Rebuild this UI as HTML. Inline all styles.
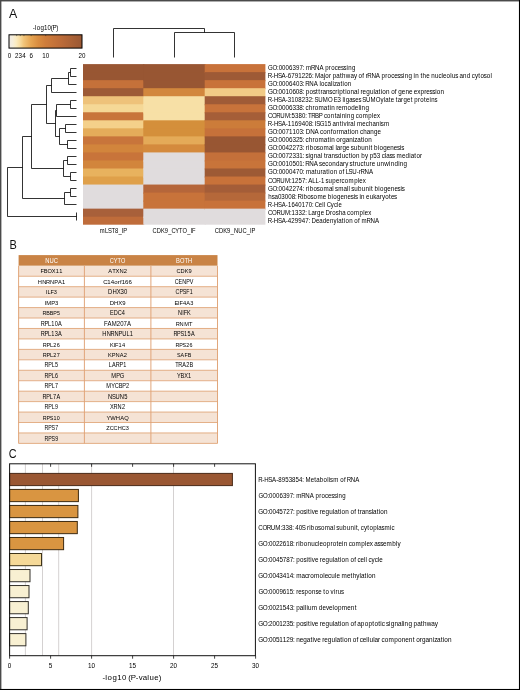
<!DOCTYPE html>
<html><head><meta charset="utf-8"><title>Figure</title>
<style>
html,body{margin:0;padding:0;background:#fff;}
body{width:520px;height:690px;position:relative;overflow:hidden;font-family:"Liberation Sans",sans-serif;}
</style></head><body>
<svg width="520" height="690" viewBox="0 0 520 690" style="position:absolute;left:0;top:0;will-change:transform" font-family="Liberation Sans, sans-serif">
<rect x="0" y="0" width="520" height="690" fill="#ffffff"/>
<text transform="scale(0.9658 1)" x="9.32" y="17.7" font-size="12.825" fill="#111" >A</text>
<text transform="scale(0.8553 1)" x="10.99" y="248.6" font-size="12.825" fill="#111" >B</text>
<text transform="scale(0.8454 1)" x="10.29" y="457.7" font-size="12.825" fill="#111" >C</text>
<defs><linearGradient id="cb" x1="0" y1="0" x2="1" y2="0">
<stop offset="0" stop-color="#efebe6"/>
<stop offset="0.05" stop-color="#f6eedb"/>
<stop offset="0.10" stop-color="#fbebc0"/>
<stop offset="0.15" stop-color="#f8dca0"/>
<stop offset="0.20" stop-color="#f2c57a"/>
<stop offset="0.30" stop-color="#e6a552"/>
<stop offset="0.40" stop-color="#d98d40"/>
<stop offset="0.50" stop-color="#cf7d3b"/>
<stop offset="0.70" stop-color="#bd6c39"/>
<stop offset="1" stop-color="#9a5834"/>
</linearGradient></defs>
<rect x="9.0" y="34.8" width="73.0" height="13.300000000000004" fill="url(#cb)" stroke="#000" stroke-width="1.0"/>
<line x1="16.66" y1="34.8" x2="16.66" y2="36.099999999999994" stroke="#222" stroke-width="0.5"/>
<line x1="20.29" y1="34.8" x2="20.29" y2="36.099999999999994" stroke="#222" stroke-width="0.5"/>
<line x1="23.92" y1="34.8" x2="23.92" y2="36.099999999999994" stroke="#222" stroke-width="0.5"/>
<line x1="31.18" y1="34.8" x2="31.18" y2="36.099999999999994" stroke="#222" stroke-width="0.5"/>
<line x1="45.70" y1="34.8" x2="45.70" y2="36.099999999999994" stroke="#222" stroke-width="0.5"/>
<text transform="scale(0.9668 1)" x="33.99 36.24 37.91 41.78 45.52 49.10 52.60 54.37 58.29" y="29.65" font-size="6.412" fill="#000" >-log10(P)</text>
<text transform="scale(0.9711 1)" x="7.90" y="57.9" font-size="6.412" fill="#000" >0</text>
<text transform="scale(0.9711 1)" x="15.37" y="57.9" font-size="6.412" fill="#000" >2</text>
<text transform="scale(0.9711 1)" x="19.11" y="57.9" font-size="6.412" fill="#000" >3</text>
<text transform="scale(0.9711 1)" x="22.85" y="57.9" font-size="6.412" fill="#000" >4</text>
<text transform="scale(0.9711 1)" x="30.33" y="57.9" font-size="6.412" fill="#000" >6</text>
<text transform="scale(0.9711 1)" x="43.50 47.06" y="57.9" font-size="6.412" fill="#000" >10</text>
<text transform="scale(0.9711 1)" x="80.88 84.44" y="57.9" font-size="6.412" fill="#000" >20</text>
<rect x="83.00" y="64.10" width="61.30" height="9.03" fill="#985633"/>
<rect x="83.00" y="72.13" width="61.30" height="9.03" fill="#985633"/>
<rect x="83.00" y="80.16" width="61.30" height="9.03" fill="#c5713a"/>
<rect x="83.00" y="88.19" width="61.30" height="9.03" fill="#9d5a36"/>
<rect x="83.00" y="96.22" width="61.30" height="9.03" fill="#eec27a"/>
<rect x="83.00" y="104.25" width="61.30" height="9.03" fill="#f5d896"/>
<rect x="83.00" y="112.28" width="61.30" height="9.03" fill="#c8753b"/>
<rect x="83.00" y="120.31" width="61.30" height="9.03" fill="#f4d08a"/>
<rect x="83.00" y="128.34" width="61.30" height="9.03" fill="#e4ac5a"/>
<rect x="83.00" y="136.37" width="61.30" height="9.03" fill="#c8753b"/>
<rect x="83.00" y="144.40" width="61.30" height="9.03" fill="#d2853c"/>
<rect x="83.00" y="152.43" width="61.30" height="9.03" fill="#c8743a"/>
<rect x="83.00" y="160.46" width="61.30" height="9.03" fill="#d2853c"/>
<rect x="83.00" y="168.49" width="61.30" height="9.03" fill="#e8b25e"/>
<rect x="83.00" y="176.52" width="61.30" height="9.03" fill="#dfa04a"/>
<rect x="83.00" y="184.55" width="61.30" height="9.03" fill="#e0dcdd"/>
<rect x="83.00" y="192.58" width="61.30" height="9.03" fill="#e0dcdd"/>
<rect x="83.00" y="200.61" width="61.30" height="9.03" fill="#e0dcdd"/>
<rect x="83.00" y="208.64" width="61.30" height="9.03" fill="#a8603a"/>
<rect x="83.00" y="216.67" width="61.30" height="8.03" fill="#bf6c3a"/>
<rect x="143.30" y="64.10" width="62.40" height="9.03" fill="#985633"/>
<rect x="143.30" y="72.13" width="62.40" height="9.03" fill="#985633"/>
<rect x="143.30" y="80.16" width="62.40" height="9.03" fill="#985633"/>
<rect x="143.30" y="88.19" width="62.40" height="9.03" fill="#d2873d"/>
<rect x="143.30" y="96.22" width="62.40" height="9.03" fill="#f7e0a6"/>
<rect x="143.30" y="104.25" width="62.40" height="9.03" fill="#f7e0a6"/>
<rect x="143.30" y="112.28" width="62.40" height="9.03" fill="#f7e0a6"/>
<rect x="143.30" y="120.31" width="62.40" height="9.03" fill="#d48f3b"/>
<rect x="143.30" y="128.34" width="62.40" height="9.03" fill="#d48f3b"/>
<rect x="143.30" y="136.37" width="62.40" height="9.03" fill="#e4aa58"/>
<rect x="143.30" y="144.40" width="62.40" height="9.03" fill="#d48a3d"/>
<rect x="143.30" y="152.43" width="62.40" height="9.03" fill="#e0dcdd"/>
<rect x="143.30" y="160.46" width="62.40" height="9.03" fill="#e0dcdd"/>
<rect x="143.30" y="168.49" width="62.40" height="9.03" fill="#e0dcdd"/>
<rect x="143.30" y="176.52" width="62.40" height="9.03" fill="#e0dcdd"/>
<rect x="143.30" y="184.55" width="62.40" height="9.03" fill="#b5663a"/>
<rect x="143.30" y="192.58" width="62.40" height="9.03" fill="#c8733a"/>
<rect x="143.30" y="200.61" width="62.40" height="9.03" fill="#c8733a"/>
<rect x="143.30" y="208.64" width="62.40" height="9.03" fill="#e0dcdd"/>
<rect x="143.30" y="216.67" width="62.40" height="8.03" fill="#e0dcdd"/>
<rect x="204.70" y="64.10" width="60.70" height="9.03" fill="#c8723a"/>
<rect x="204.70" y="72.13" width="60.70" height="9.03" fill="#9e5a36"/>
<rect x="204.70" y="80.16" width="60.70" height="9.03" fill="#c8723a"/>
<rect x="204.70" y="88.19" width="60.70" height="9.03" fill="#f2cb86"/>
<rect x="204.70" y="96.22" width="60.70" height="9.03" fill="#9f5b37"/>
<rect x="204.70" y="104.25" width="60.70" height="9.03" fill="#c8733b"/>
<rect x="204.70" y="112.28" width="60.70" height="9.03" fill="#a55e38"/>
<rect x="204.70" y="120.31" width="60.70" height="9.03" fill="#cc7c3a"/>
<rect x="204.70" y="128.34" width="60.70" height="9.03" fill="#c6713a"/>
<rect x="204.70" y="136.37" width="60.70" height="9.03" fill="#985633"/>
<rect x="204.70" y="144.40" width="60.70" height="9.03" fill="#985633"/>
<rect x="204.70" y="152.43" width="60.70" height="9.03" fill="#c4703a"/>
<rect x="204.70" y="160.46" width="60.70" height="9.03" fill="#c8743a"/>
<rect x="204.70" y="168.49" width="60.70" height="9.03" fill="#9d5a35"/>
<rect x="204.70" y="176.52" width="60.70" height="9.03" fill="#c8723a"/>
<rect x="204.70" y="184.55" width="60.70" height="9.03" fill="#a45d38"/>
<rect x="204.70" y="192.58" width="60.70" height="9.03" fill="#b5683a"/>
<rect x="204.70" y="200.61" width="60.70" height="9.03" fill="#c8723a"/>
<rect x="204.70" y="208.64" width="60.70" height="9.03" fill="#e0dcdd"/>
<rect x="204.70" y="216.67" width="60.70" height="8.03" fill="#e0dcdd"/>
<text transform="scale(0.9091 1)" x="109.74 115.47 118.70 122.55 126.48 130.24 133.88 135.49" y="233.4" font-size="6.412" fill="#000" >mLST8_IP</text>
<text transform="scale(0.8954 1)" x="170.32 175.02 179.75 184.08 187.90 191.43 195.84 199.93 203.86 209.06 212.73 214.40" y="233.4" font-size="6.412" fill="#000" >CDK9_CYTO_IF</text>
<text transform="scale(0.9099 1)" x="236.05 240.67 245.33 249.60 253.36 257.12 261.96 266.51 271.05 274.68 276.29" y="233.4" font-size="6.412" fill="#000" >CDK9_NUC_IP</text>
<text transform="scale(0.9499 1)" x="282.15 286.89 291.68 293.34 296.99 300.63 304.28 307.93 311.57 315.22 318.67 320.16 322.09 327.32 331.57 336.26 340.44 342.32 346.22 348.62 352.34 355.53 358.90 361.71 364.84 366.57 370.53" y="70.11" font-size="6.412" fill="#000" >GO:0006397: mRNA processing</text>
<text transform="scale(0.9718 1)" x="275.54 279.72 281.80 285.95 289.79 294.05 296.19 299.75 303.31 306.88 310.44 314.00 317.57 320.96 322.41 324.16 329.52 333.11 334.79 338.54 340.59 342.41 346.06 349.78 351.96 355.91 360.68 364.17 367.25 369.00 372.81 374.56 376.26 378.02 382.17 386.76 390.87 392.69 396.51 398.84 402.48 405.60 408.89 411.64 414.72 416.39 420.26 423.83 425.56 427.23 430.78 432.67 434.85 438.52 441.89 443.66 447.50 451.15 454.42 455.91 459.55 463.35 465.01 468.48 471.31 472.82 476.43 480.31 483.90 485.48 488.67 492.17 494.33 497.79 500.90 504.69" y="78.14" font-size="6.412" fill="#000" >R-HSA-6791226: Major pathway of rRNA processing in the nucleolus and cytosol</text>
<text transform="scale(0.9535 1)" x="281.06 285.79 290.56 292.22 295.85 299.48 303.11 306.74 310.37 314.01 317.45 318.93 320.16 324.39 329.06 333.23 334.99 336.70 340.41 343.52 347.13 348.80 350.25 353.29 357.06 359.24 360.94 364.85" y="86.17" font-size="6.412" fill="#000" >GO:0006403: RNA localization</text>
<text transform="scale(0.9875 1)" x="271.30 275.87 280.53 282.10 285.61 289.11 292.62 296.13 299.63 303.14 306.49 307.92 309.70 313.52 316.93 320.13 322.39 324.46 326.51 330.06 333.49 336.37 339.56 341.83 343.50 347.47 349.58 351.19 354.96 358.50 362.03 363.38 365.05 367.16 370.78 374.58 378.34 379.72 383.39 385.50 387.11 390.88 394.39 396.10 399.87 401.59 403.33 406.95 410.56 414.17 417.50 419.05 422.52 425.87 429.65 431.76 435.01 437.71 440.76 442.36 446.14" y="94.2" font-size="6.412" fill="#000" >GO:0010608: posttranscriptional regulation of gene expression</text>
<text transform="scale(0.9477 1)" x="282.60 286.86 289.03 293.28 297.22 301.56 303.77 307.42 311.08 314.73 318.38 322.04 325.69 329.15 330.64 331.90 335.79 340.60 346.09 350.90 352.16 356.10 359.57 361.35 363.02 364.77 368.48 371.79 374.80 378.18 381.05 382.32 386.20 391.01 396.51 401.53 404.94 406.42 410.21 412.28 415.71 417.65 419.65 423.25 425.69 429.46 433.32 435.25 437.14 441.04 443.45 447.48 449.55 453.23 454.97 458.54" y="102.23" font-size="6.412" fill="#000" >R-HSA-3108232: SUMO E3 ligases SUMOylate target proteins</text>
<text transform="scale(0.9892 1)" x="270.83 275.39 280.05 281.61 285.11 288.61 292.12 295.62 299.12 302.62 305.97 307.39 308.93 312.18 315.90 318.17 322.01 327.38 331.05 333.15 334.78 338.29 339.95 342.06 345.72 351.33 355.13 358.76 362.35 363.95 365.57 369.37" y="110.26" font-size="6.412" fill="#000" >GO:0006338: chromatin remodeling</text>
<text transform="scale(0.9511 1)" x="281.73 286.06 290.59 294.79 299.59 304.96 306.62 310.26 313.90 317.54 320.99 322.47 323.92 327.24 331.25 335.06 338.95 340.58 343.93 347.85 351.89 353.88 357.49 359.22 363.09 364.82 368.77 372.40 374.03 377.39 381.41 387.28 391.20 392.75 396.35" y="118.29" font-size="6.412" fill="#000" >CORUM:5380: TRBP containing complex</text>
<text transform="scale(0.9522 1)" x="281.26 285.50 287.65 291.89 295.80 300.13 302.32 305.96 309.60 313.23 316.87 320.51 324.14 327.59 329.07 330.67 332.02 335.70 340.52 344.16 347.62 349.18 352.86 356.89 359.07 360.72 364.14 365.78 367.93 371.54 372.95 374.88 380.50 384.04 387.42 391.09 394.77 398.64 399.98 403.27" y="126.32" font-size="6.412" fill="#000" >R-HSA-1169408: ISG15 antiviral mechanism</text>
<text transform="scale(0.9771 1)" x="274.23 278.84 283.54 285.13 288.68 292.22 295.76 299.31 302.85 306.40 309.77 311.22 312.83 317.40 321.97 326.06 327.63 330.89 334.71 338.52 340.54 344.28 346.68 352.12 355.82 357.95 359.58 363.40 366.94 368.50 371.79 375.37 378.95 382.80 386.46" y="134.35" font-size="6.412" fill="#000" >GO:0071103: DNA conformation change</text>
<text transform="scale(0.9863 1)" x="271.65 276.22 280.89 282.46 285.97 289.48 292.99 296.50 300.01 303.52 306.88 308.31 309.86 313.11 316.85 319.13 322.97 328.36 332.04 334.15 335.78 339.30 341.01 344.72 347.04 350.60 354.15 357.92 359.29 362.23 365.90 368.01 369.62 373.40" y="142.38" font-size="6.412" fill="#000" >GO:0006325: chromatin organization</text>
<text transform="scale(0.9784 1)" x="273.85 278.46 283.15 284.74 288.28 291.82 295.36 298.90 302.44 305.98 309.35 310.80 312.48 314.77 316.47 320.33 323.77 326.85 330.73 336.16 339.71 341.07 342.80 344.20 347.71 350.05 353.71 357.06 358.44 361.53 365.39 369.26 373.07 376.86 378.63 380.51 382.31 386.15 387.78 391.60 395.26 398.90 402.54 405.82 408.88 410.16" y="150.41" font-size="6.412" fill="#000" >GO:0042273: ribosomal large subunit biogenesis</text>
<text transform="scale(0.9752 1)" x="274.77 279.39 284.09 285.69 289.24 292.79 296.34 299.90 303.45 307.00 310.38 311.83 313.22 316.29 317.97 321.82 325.41 328.97 330.34 332.22 334.32 336.40 339.99 343.46 346.61 350.47 354.10 357.51 359.65 361.28 365.11 368.65 370.46 374.24 377.32 379.13 382.87 386.42 389.83 391.40 394.66 396.07 399.29 402.03 404.85 406.69 412.19 415.88 419.71 421.12 424.83 426.98 430.73" y="158.44" font-size="6.412" fill="#000" >GO:0072331: signal transduction by p53 class mediator</text>
<text transform="scale(0.9751 1)" x="274.80 279.42 284.12 285.72 289.27 292.82 296.37 299.93 303.48 307.03 310.41 311.86 313.03 317.17 321.75 325.85 327.24 330.16 333.63 336.90 340.72 344.59 348.21 351.73 353.96 357.03 358.42 361.65 363.75 366.08 369.72 373.12 375.28 379.04 381.19 384.55 386.30 390.13 394.06 399.02 400.68 404.56 408.39 410.05 413.91" y="166.47" font-size="6.412" fill="#000" >GO:0010501: RNA secondary structure unwinding</text>
<text transform="scale(0.9560 1)" x="280.32 285.04 289.80 291.45 295.08 298.70 302.32 305.94 309.56 313.19 316.62 318.10 320.01 325.55 329.31 331.53 335.34 337.48 341.25 343.42 345.11 349.01 352.61 354.41 358.27 360.05 361.57 364.62 368.47 373.08 375.32 377.13 381.35 386.01" y="174.5" font-size="6.412" fill="#000" >GO:0000470: maturation of LSU-rRNA</text>
<text transform="scale(0.9515 1)" x="281.62 285.94 290.47 294.67 299.46 304.83 306.49 310.13 313.77 317.41 320.86 322.34 324.02 328.22 331.57 335.04 337.24 340.70 342.15 345.33 349.30 353.09 356.75 358.96 362.32 366.33 372.20 376.12 377.67 381.27" y="182.53" font-size="6.412" fill="#000" >CORUM:1257: ALL-1 supercomplex</text>
<text transform="scale(0.9773 1)" x="274.17 278.78 283.48 285.07 288.62 292.16 295.70 299.25 302.79 306.33 309.71 311.16 312.84 315.13 316.84 320.70 324.14 327.23 331.11 336.55 340.10 341.47 342.85 346.03 351.47 355.02 356.65 358.01 359.40 362.49 366.36 370.23 374.05 377.84 379.62 381.49 383.30 387.14 388.77 392.60 396.26 399.91 403.55 406.83 409.90 411.18" y="190.56" font-size="6.412" fill="#000" >GO:0042274: ribosomal small subunit biogenesis</text>
<text transform="scale(0.9689 1)" x="276.97 280.46 283.34 286.81 290.38 293.95 297.53 301.10 304.50 305.96 307.15 311.44 313.17 317.06 320.53 323.65 327.58 333.11 336.49 338.32 342.19 343.84 347.70 351.40 355.07 358.75 362.06 365.14 366.45 369.28 371.01 372.69 376.25 377.84 381.51 385.24 388.37 391.91 394.15 397.52 401.48 403.49 406.79" y="198.59" font-size="6.412" fill="#000" >hsa03008: Ribosome biogenesis in eukaryotes</text>
<text transform="scale(0.9275 1)" x="288.81 293.14 295.38 299.72 303.74 308.16 310.43 314.16 317.89 321.63 325.36 329.10 332.83 336.34 337.87 339.32 343.79 347.54 349.26 350.71 352.17 356.71 360.05 363.43 365.04" y="206.62" font-size="6.412" fill="#000" >R-HSA-1640170: Cell Cycle</text>
<text transform="scale(0.9518 1)" x="281.53 285.86 290.39 294.59 299.38 304.74 306.40 310.04 313.68 317.32 320.76 322.25 323.78 327.17 330.75 333.18 336.94 340.36 342.04 346.81 349.20 352.74 355.93 359.61 362.96 364.59 367.94 371.96 377.82 381.75 383.29 386.89" y="214.65" font-size="6.412" fill="#000" >CORUM:1332: Large Drosha complex</text>
<text transform="scale(0.9580 1)" x="279.53 283.76 285.89 290.10 293.99 298.30 300.47 304.09 307.70 311.32 314.93 318.55 321.97 323.45 325.12 329.76 333.23 336.91 340.66 344.38 348.18 351.56 353.02 356.77 358.94 360.63 364.52 368.11 369.90 373.76 375.53 377.44 382.63 386.84 391.49" y="222.68" font-size="6.412" fill="#000" >R-HSA-429947: Deadenylation of mRNA</text>
<path d="M76.5 68.5 L70.5 68.5 L70.5 76.5 L76.5 76.5" fill="none" stroke="#000" stroke-width="0.8"/>
<path d="M70.5 72.5 L68.5 72.5 L68.5 84.5 L76.5 84.5" fill="none" stroke="#000" stroke-width="0.8"/>
<path d="M68.5 78.5 L51.5 78.5 L51.5 92.5 L76.5 92.5" fill="none" stroke="#000" stroke-width="0.8"/>
<path d="M76.5 100.5 L70.5 100.5 L70.5 108.5 L76.5 108.5" fill="none" stroke="#000" stroke-width="0.8"/>
<path d="M70.5 104.5 L56.5 104.5 L56.5 116.5 L76.5 116.5" fill="none" stroke="#000" stroke-width="0.8"/>
<path d="M76.5 124.5 L65.5 124.5 L65.5 132.5 L76.5 132.5" fill="none" stroke="#000" stroke-width="0.8"/>
<path d="M76.5 140.5 L67.5 140.5 L67.5 148.5 L76.5 148.5" fill="none" stroke="#000" stroke-width="0.8"/>
<path d="M65.5 128.5 L59.5 128.5 L59.5 144.5 L67.5 144.5" fill="none" stroke="#000" stroke-width="0.8"/>
<path d="M56.5 110.5 L55.5 110.5 L55.5 136.5 L59.5 136.5" fill="none" stroke="#000" stroke-width="0.8"/>
<path d="M51.5 85.5 L46.5 85.5 L46.5 123.5 L55.5 123.5" fill="none" stroke="#000" stroke-width="0.8"/>
<path d="M76.5 156.5 L67.5 156.5 L67.5 164.5 L76.5 164.5" fill="none" stroke="#000" stroke-width="0.8"/>
<path d="M76.5 172.5 L70.5 172.5 L70.5 180.5 L76.5 180.5" fill="none" stroke="#000" stroke-width="0.8"/>
<path d="M67.5 160.5 L63.5 160.5 L63.5 176.5 L70.5 176.5" fill="none" stroke="#000" stroke-width="0.8"/>
<path d="M46.5 104.5 L31.5 104.5 L31.5 168.5 L63.5 168.5" fill="none" stroke="#000" stroke-width="0.8"/>
<path d="M76.5 188.5 L70.5 188.5 L70.5 196.5 L76.5 196.5" fill="none" stroke="#000" stroke-width="0.8"/>
<path d="M70.5 192.5 L64.5 192.5 L64.5 204.5 L76.5 204.5" fill="none" stroke="#000" stroke-width="0.8"/>
<path d="M31.5 136.5 L22.5 136.5 L22.5 198.5 L64.5 198.5" fill="none" stroke="#000" stroke-width="0.8"/>
<path d="M76.5 212.5 L76.5 212.5 L76.5 220.5 L76.5 220.5" fill="none" stroke="#000" stroke-width="0.8"/>
<path d="M22.5 167.5 L7.5 167.5 L7.5 216.5 L76.5 216.5" fill="none" stroke="#000" stroke-width="0.8"/>
<path d="M174.5 57.5 L174.5 32.5 L234.5 32.5 L234.5 57.5" fill="none" stroke="#000" stroke-width="0.8"/>
<path d="M113.5 57.5 L113.5 28.5 L204.5 28.5 L204.5 32.5" fill="none" stroke="#000" stroke-width="0.8"/>
<rect x="18.6" y="255.1" width="198.9" height="10.7" fill="#c98345"/>
<rect x="18.6" y="265.80" width="198.9" height="10.45" fill="#f5e3d5"/>
<rect x="18.6" y="276.25" width="198.9" height="10.45" fill="#ffffff"/>
<rect x="18.6" y="286.69" width="198.9" height="10.45" fill="#f5e3d5"/>
<rect x="18.6" y="297.14" width="198.9" height="10.45" fill="#ffffff"/>
<rect x="18.6" y="307.59" width="198.9" height="10.45" fill="#f5e3d5"/>
<rect x="18.6" y="318.04" width="198.9" height="10.45" fill="#ffffff"/>
<rect x="18.6" y="328.48" width="198.9" height="10.45" fill="#f5e3d5"/>
<rect x="18.6" y="338.93" width="198.9" height="10.45" fill="#ffffff"/>
<rect x="18.6" y="349.38" width="198.9" height="10.45" fill="#f5e3d5"/>
<rect x="18.6" y="359.82" width="198.9" height="10.45" fill="#ffffff"/>
<rect x="18.6" y="370.27" width="198.9" height="10.45" fill="#f5e3d5"/>
<rect x="18.6" y="380.72" width="198.9" height="10.45" fill="#ffffff"/>
<rect x="18.6" y="391.16" width="198.9" height="10.45" fill="#f5e3d5"/>
<rect x="18.6" y="401.61" width="198.9" height="10.45" fill="#ffffff"/>
<rect x="18.6" y="412.06" width="198.9" height="10.45" fill="#f5e3d5"/>
<rect x="18.6" y="422.50" width="198.9" height="10.45" fill="#ffffff"/>
<rect x="18.6" y="432.95" width="198.9" height="10.45" fill="#f5e3d5"/>
<line x1="18.6" y1="276.25" x2="217.5" y2="276.25" stroke="#dd9d6c" stroke-width="0.8"/>
<line x1="18.6" y1="286.69" x2="217.5" y2="286.69" stroke="#dd9d6c" stroke-width="0.8"/>
<line x1="18.6" y1="297.14" x2="217.5" y2="297.14" stroke="#dd9d6c" stroke-width="0.8"/>
<line x1="18.6" y1="307.59" x2="217.5" y2="307.59" stroke="#dd9d6c" stroke-width="0.8"/>
<line x1="18.6" y1="318.04" x2="217.5" y2="318.04" stroke="#dd9d6c" stroke-width="0.8"/>
<line x1="18.6" y1="328.48" x2="217.5" y2="328.48" stroke="#dd9d6c" stroke-width="0.8"/>
<line x1="18.6" y1="338.93" x2="217.5" y2="338.93" stroke="#dd9d6c" stroke-width="0.8"/>
<line x1="18.6" y1="349.38" x2="217.5" y2="349.38" stroke="#dd9d6c" stroke-width="0.8"/>
<line x1="18.6" y1="359.82" x2="217.5" y2="359.82" stroke="#dd9d6c" stroke-width="0.8"/>
<line x1="18.6" y1="370.27" x2="217.5" y2="370.27" stroke="#dd9d6c" stroke-width="0.8"/>
<line x1="18.6" y1="380.72" x2="217.5" y2="380.72" stroke="#dd9d6c" stroke-width="0.8"/>
<line x1="18.6" y1="391.16" x2="217.5" y2="391.16" stroke="#dd9d6c" stroke-width="0.8"/>
<line x1="18.6" y1="401.61" x2="217.5" y2="401.61" stroke="#dd9d6c" stroke-width="0.8"/>
<line x1="18.6" y1="412.06" x2="217.5" y2="412.06" stroke="#dd9d6c" stroke-width="0.8"/>
<line x1="18.6" y1="422.50" x2="217.5" y2="422.50" stroke="#dd9d6c" stroke-width="0.8"/>
<line x1="18.6" y1="432.95" x2="217.5" y2="432.95" stroke="#dd9d6c" stroke-width="0.8"/>
<line x1="18.6" y1="443.40" x2="217.5" y2="443.40" stroke="#dd9d6c" stroke-width="0.8"/>
<line x1="18.6" y1="265.8" x2="18.6" y2="443.40" stroke="#dfa275" stroke-width="0.95"/>
<line x1="84.4" y1="265.8" x2="84.4" y2="443.40" stroke="#dfa275" stroke-width="0.95"/>
<line x1="150.9" y1="265.8" x2="150.9" y2="443.40" stroke="#dfa275" stroke-width="0.95"/>
<line x1="217.5" y1="265.8" x2="217.5" y2="443.40" stroke="#dfa275" stroke-width="0.95"/>
<text transform="scale(0.9158 1)" x="49.40 54.20 58.73" y="262.55" font-size="6.412" fill="#ffffff" >NUC</text>
<text transform="scale(0.9099 1)" x="44.43 47.98 52.10 57.02 61.29 65.02" y="273.42" font-size="6.270" fill="#000" >FBOX11</text>
<text transform="scale(0.9170 1)" x="41.26 45.98 50.28 54.59 59.04 63.16 67.56" y="283.87" font-size="6.270" fill="#000" >HNRNPA1</text>
<text transform="scale(0.9002 1)" x="50.94 52.68 56.02 59.86" y="294.32" font-size="6.270" fill="#000" >ILF3</text>
<text transform="scale(0.9417 1)" x="47.34 49.25 54.45 58.46" y="304.76" font-size="6.270" fill="#000" >IMP3</text>
<text transform="scale(0.8561 1)" x="49.69 54.02 58.20 62.34 66.72" y="315.21" font-size="6.270" fill="#000" >RBBP5</text>
<text transform="scale(0.8987 1)" x="45.34 49.44 53.47 57.09 60.86 64.64" y="325.66" font-size="6.270" fill="#000" >RPL10A</text>
<text transform="scale(0.8987 1)" x="45.34 49.44 53.47 57.09 60.86 64.64" y="336.11" font-size="6.270" fill="#000" >RPL13A</text>
<text transform="scale(0.8841 1)" x="48.41 52.58 56.67 60.35 64.18" y="346.55" font-size="6.270" fill="#000" >RPL26</text>
<text transform="scale(0.8841 1)" x="48.41 52.58 56.67 60.35 64.18" y="357.0" font-size="6.270" fill="#000" >RPL27</text>
<text transform="scale(0.8648 1)" x="51.50 55.76 59.94 63.69" y="367.45" font-size="6.270" fill="#000" >RPL5</text>
<text transform="scale(0.8648 1)" x="51.50 55.76 59.94 63.69" y="377.89" font-size="6.270" fill="#000" >RPL6</text>
<text transform="scale(0.8648 1)" x="51.50 55.76 59.94 63.69" y="388.34" font-size="6.270" fill="#000" >RPL7</text>
<text transform="scale(0.8860 1)" x="47.93 52.09 56.18 59.84 63.69" y="398.79" font-size="6.270" fill="#000" >RPL7A</text>
<text transform="scale(0.8648 1)" x="51.50 55.76 59.94 63.69" y="409.23" font-size="6.270" fill="#000" >RPL9</text>
<text transform="scale(0.8601 1)" x="49.74 54.02 57.95 62.16 66.10" y="419.68" font-size="6.270" fill="#000" >RPS10</text>
<text transform="scale(0.8400 1)" x="53.00 57.38 61.41 65.71" y="430.13" font-size="6.270" fill="#000" >RPS7</text>
<text transform="scale(0.8400 1)" x="53.00 57.38 61.41 65.71" y="440.58" font-size="6.270" fill="#000" >RPS9</text>
<text transform="scale(0.8742 1)" x="125.59 130.10 134.29 138.33" y="262.55" font-size="6.412" fill="#ffffff" >CYTO</text>
<text transform="scale(0.9311 1)" x="116.33 120.44 124.05 128.23 132.90" y="273.42" font-size="6.270" fill="#000" >ATXN2</text>
<text transform="scale(0.9723 1)" x="106.07 110.30 113.79 117.39 121.06 123.34 125.20 128.68 132.16" y="283.87" font-size="6.270" fill="#000" >C14orf166</text>
<text transform="scale(0.9519 1)" x="113.54 118.11 122.52 126.63 130.18" y="294.32" font-size="6.270" fill="#000" >DHX30</text>
<text transform="scale(0.9479 1)" x="115.81 120.40 124.83 128.95" y="304.76" font-size="6.270" fill="#000" >DHX9</text>
<text transform="scale(0.8883 1)" x="123.82 127.95 132.58 137.16" y="315.21" font-size="6.270" fill="#000" >EDC4</text>
<text transform="scale(0.9598 1)" x="108.40 112.00 116.35 121.75 125.27 128.80 132.32" y="325.66" font-size="6.270" fill="#000" >FAM207A</text>
<text transform="scale(0.9120 1)" x="112.20 116.94 121.27 125.60 130.07 134.17 138.74 142.30" y="336.11" font-size="6.270" fill="#000" >HNRNPUL1</text>
<text transform="scale(0.9051 1)" x="121.50 125.57 127.17 130.99 134.73" y="346.55" font-size="6.270" fill="#000" >KIF14</text>
<text transform="scale(0.9171 1)" x="117.87 121.73 125.84 130.59 134.98" y="357.0" font-size="6.270" fill="#000" >KPNA2</text>
<text transform="scale(0.8860 1)" x="122.86 126.55 130.66 134.82 139.06" y="367.45" font-size="6.270" fill="#000" >LARP1</text>
<text transform="scale(0.9159 1)" x="121.59 126.93 130.82" y="377.89" font-size="6.270" fill="#000" >MPG</text>
<text transform="scale(0.8990 1)" x="118.32 123.78 127.72 132.01 135.95 140.14" y="388.34" font-size="6.270" fill="#000" >MYCBP2</text>
<text transform="scale(0.9220 1)" x="117.07 121.36 125.27 129.94 134.65" y="398.79" font-size="6.270" fill="#000" >NSUN5</text>
<text transform="scale(0.8997 1)" x="122.40 126.30 130.69 135.50" y="409.23" font-size="6.270" fill="#000" >XRN2</text>
<text transform="scale(0.9306 1)" x="114.41 118.46 124.46 129.12 133.39" y="419.68" font-size="6.270" fill="#000" >YWHAQ</text>
<text transform="scale(0.8975 1)" x="118.49 122.30 126.57 131.10 135.63 140.17" y="430.13" font-size="6.270" fill="#000" >ZCCHC3</text>
<text transform="scale(0.9019 1)" x="195.22 199.47 204.45 208.39" y="262.55" font-size="6.412" fill="#ffffff" >BOTH</text>
<text transform="scale(0.9080 1)" x="194.34 198.87 203.43 207.62" y="273.42" font-size="6.270" fill="#000" >CDK9</text>
<text transform="scale(0.8615 1)" x="202.96 207.24 211.47 216.20 220.38" y="283.87" font-size="6.270" fill="#000" >CENPV</text>
<text transform="scale(0.8508 1)" x="206.39 210.88 214.86 218.83 222.88" y="294.32" font-size="6.270" fill="#000" >CPSF1</text>
<text transform="scale(0.9015 1)" x="193.58 197.48 199.09 202.93 206.70 211.16" y="304.76" font-size="6.270" fill="#000" >EIF4A3</text>
<text transform="scale(0.8901 1)" x="199.99 204.71 206.36 209.99" y="315.21" font-size="6.270" fill="#000" >NIFK</text>
<text transform="scale(0.9101 1)" x="193.03 197.37 202.32 207.74" y="325.66" font-size="6.270" fill="#000" >RNMT</text>
<text transform="scale(0.8785 1)" x="197.41 201.60 205.45 209.58 213.43 217.31" y="336.11" font-size="6.270" fill="#000" >RPS15A</text>
<text transform="scale(0.8601 1)" x="204.02 208.30 212.23 216.44 220.38" y="346.55" font-size="6.270" fill="#000" >RPS26</text>
<text transform="scale(0.8600 1)" x="205.79 210.03 214.42 218.19" y="357.0" font-size="6.270" fill="#000" >SAFB</text>
<text transform="scale(0.8824 1)" x="198.58 202.10 206.57 211.13 214.73" y="367.45" font-size="6.270" fill="#000" >TRA2B</text>
<text transform="scale(0.8920 1)" x="198.39 202.40 206.52 210.87" y="377.89" font-size="6.270" fill="#000" >YBX1</text>
<line x1="25.4" y1="463.8" x2="25.4" y2="655.7" stroke="#c9c5c5" stroke-width="0.8"/>
<line x1="42.5" y1="463.8" x2="42.5" y2="655.7" stroke="#c9c5c5" stroke-width="0.8"/>
<line x1="58.7" y1="463.8" x2="58.7" y2="655.7" stroke="#c9c5c5" stroke-width="0.8"/>
<line x1="91.6" y1="463.8" x2="91.6" y2="655.7" stroke="#c9c5c5" stroke-width="0.8"/>
<line x1="173.5" y1="463.8" x2="173.5" y2="655.7" stroke="#c9c5c5" stroke-width="0.8"/>
<rect x="9.6" y="473.40" width="222.80" height="12.20" fill="#9a5733" stroke="#4a2a18" stroke-width="1.0"/>
<text transform="scale(0.9520 1)" x="271.23 275.48 277.63 281.86 285.78 290.11 292.30 295.94 299.58 303.21 306.85 310.49 314.13 317.57 319.06 320.88 326.39 330.23 332.22 335.95 339.91 343.77 345.43 346.78 350.07 355.56 357.36 361.24 363.02 364.26 368.50 373.18" y="481.7" font-size="6.412" fill="#000" >R-HSA-8953854: Metabolism of RNA</text>
<rect x="9.6" y="489.42" width="68.80" height="12.20" fill="#d99541" stroke="#3d2a10" stroke-width="1.0"/>
<text transform="scale(0.9499 1)" x="272.04 276.79 281.57 283.24 286.88 290.53 294.17 297.82 301.46 305.11 308.56 310.05 311.99 317.22 321.47 326.15 330.33 332.21 336.11 338.51 342.23 345.42 348.79 351.60 354.73 356.47 360.42" y="497.72" font-size="6.412" fill="#000" >GO:0006397: mRNA processing</text>
<rect x="9.6" y="505.44" width="68.30" height="12.20" fill="#d99541" stroke="#3d2a10" stroke-width="1.0"/>
<text transform="scale(0.9896 1)" x="261.02 265.57 270.23 271.79 275.29 278.79 282.29 285.79 289.29 292.79 296.14 297.57 299.34 303.15 306.55 309.59 311.34 313.44 314.99 318.16 321.49 323.15 325.26 328.87 332.66 336.41 337.79 341.45 343.56 345.16 348.92 352.43 354.13 357.89 359.61 361.47 363.53 365.58 369.11 372.54 375.58 376.96 380.62 382.73 384.33 388.09" y="513.74" font-size="6.412" fill="#000" >GO:0045727: positive regulation of translation</text>
<rect x="9.6" y="521.46" width="67.70" height="12.20" fill="#d99541" stroke="#3d2a10" stroke-width="1.0"/>
<text transform="scale(0.9660 1)" x="267.40 271.66 276.12 280.26 284.98 290.29 291.91 295.50 299.08 302.49 303.95 305.60 309.18 312.34 316.05 317.76 320.07 321.81 325.71 329.19 332.32 336.26 341.74 345.32 346.71 348.12 351.25 355.16 359.08 362.94 366.77 368.56 370.44 371.91 373.50 376.71 380.23 382.41 386.31 390.20 391.63 394.88 398.11 403.80 405.29" y="529.76" font-size="6.412" fill="#000" >CORUM:338: 40S ribosomal subunit, cytoplasmic</text>
<rect x="9.6" y="537.48" width="54.00" height="12.20" fill="#d99541" stroke="#3d2a10" stroke-width="1.0"/>
<text transform="scale(0.9866 1)" x="261.84 266.41 271.07 272.65 276.15 279.66 283.17 286.68 290.19 293.70 297.06 298.49 300.16 302.43 304.11 307.94 311.71 315.50 319.09 322.32 323.77 327.37 331.19 334.97 337.25 341.16 343.11 346.70 348.32 351.84 353.39 356.62 360.46 366.15 369.97 371.42 374.90 377.92 379.40 382.59 385.30 388.19 391.86 397.55 401.38 402.90" y="545.78" font-size="6.412" fill="#000" >GO:0022618: ribonucleoprotein complex assembly</text>
<rect x="9.6" y="553.50" width="31.90" height="12.20" fill="#f5d998" stroke="#3d3318" stroke-width="1.0"/>
<text transform="scale(0.9781 1)" x="264.14 268.74 273.44 275.03 278.57 282.11 285.65 289.19 292.73 296.27 299.65 301.10 302.90 306.76 310.20 313.26 315.03 317.16 318.74 321.95 325.30 326.98 329.12 332.78 336.61 340.40 341.80 345.50 347.63 349.26 353.07 356.61 358.34 362.14 363.88 365.44 368.54 372.15 373.78 375.15 376.71 379.88 383.05 386.31 387.78" y="561.8" font-size="6.412" fill="#000" >GO:0045787: positive regulation of cell cycle</text>
<rect x="9.6" y="569.52" width="20.40" height="12.20" fill="#f8f0d2" stroke="#33302a" stroke-width="1.0"/>
<text transform="scale(0.9891 1)" x="261.16 265.72 270.38 271.94 275.44 278.94 282.44 285.95 289.45 292.95 296.30 297.73 299.52 304.89 308.25 311.43 313.70 317.53 323.14 326.89 328.33 331.75 334.98 338.74 340.18 343.50 345.29 350.74 354.47 356.60 360.28 363.58 364.96 368.63 370.73 372.34 376.10" y="577.82" font-size="6.412" fill="#000" >GO:0043414: macromolecule methylation</text>
<rect x="9.6" y="585.54" width="19.40" height="12.20" fill="#f8f0d2" stroke="#33302a" stroke-width="1.0"/>
<text transform="scale(0.9574 1)" x="269.89 274.59 279.35 281.00 284.62 288.23 291.85 295.47 299.08 302.70 306.13 307.61 309.33 311.53 314.87 318.10 322.04 325.93 329.46 332.44 335.85 337.76 339.97 343.55 345.28 348.69 350.31 352.69 356.21" y="593.84" font-size="6.412" fill="#000" >GO:0009615: response to virus</text>
<rect x="9.6" y="601.56" width="18.70" height="12.20" fill="#f8f0d2" stroke="#33302a" stroke-width="1.0"/>
<text transform="scale(0.9896 1)" x="261.02 265.57 270.23 271.80 275.29 278.79 282.29 285.79 289.29 292.79 296.14 297.57 299.34 302.92 306.44 308.05 309.65 311.26 315.10 320.44 322.20 325.83 329.36 332.53 336.11 337.72 341.53 345.43 350.87 354.47 358.38" y="609.86" font-size="6.412" fill="#000" >GO:0021543: pallium development</text>
<rect x="9.6" y="617.58" width="17.50" height="12.20" fill="#f8f0d2" stroke="#33302a" stroke-width="1.0"/>
<text x="258.29 262.79 267.42 268.96 272.42 275.88 279.35 282.81 286.27 289.73 293.06 294.47 296.21 299.99 303.36 306.37 308.10 310.19 311.71 314.84 318.14 319.78 321.86 325.44 329.19 332.91 334.27 337.90 339.99 341.56 345.29 348.77 350.44 354.17 355.87 357.32 360.87 364.64 368.42 372.35 374.43 378.29 380.37 381.78 384.72 386.06 389.08 390.69 394.45 397.95 401.44 403.03 404.62 408.38 411.87 413.62 417.16 420.80 422.90 426.72 431.37 434.76" y="625.88" font-size="6.412" fill="#000" >GO:2001235: positive regulation of apoptotic signaling pathway</text>
<rect x="9.6" y="633.60" width="16.30" height="12.20" fill="#f8f0d2" stroke="#33302a" stroke-width="1.0"/>
<text x="258.29 262.79 267.42 268.96 272.42 275.88 279.35 282.81 286.27 289.73 293.06 294.47 296.17 299.73 303.31 306.82 310.46 312.54 314.06 317.20 320.50 322.14 324.22 327.80 331.54 335.27 336.62 340.26 342.34 343.92 347.64 351.12 352.80 356.53 358.23 359.75 362.77 366.33 367.92 369.50 373.23 374.58 378.03 380.03 381.54 384.73 388.51 394.13 397.90 401.63 405.19 408.76 412.64 414.47 416.15 419.82 422.09 425.61 429.11 432.84 434.18 437.08 440.71 442.80 444.37 448.10" y="641.9" font-size="6.412" fill="#000" >GO:0051129: negative regulation of cellular component organization</text>
<rect x="9.6" y="463.8" width="245.8" height="191.90000000000003" fill="none" stroke="#111" stroke-width="1"/>
<line x1="9.60" y1="655.7" x2="9.60" y2="658.7" stroke="#111" stroke-width="0.8"/>
<text transform="scale(0.9711 1)" x="8.06" y="667.8" font-size="6.555" fill="#000" >0</text>
<line x1="50.60" y1="655.7" x2="50.60" y2="658.7" stroke="#111" stroke-width="0.8"/>
<line x1="50.60" y1="463.8" x2="50.60" y2="466.8" stroke="#111" stroke-width="0.8"/>
<text transform="scale(0.9711 1)" x="50.29" y="667.8" font-size="6.555" fill="#000" >5</text>
<line x1="91.60" y1="655.7" x2="91.60" y2="658.7" stroke="#111" stroke-width="0.8"/>
<line x1="91.60" y1="463.8" x2="91.60" y2="466.8" stroke="#111" stroke-width="0.8"/>
<text transform="scale(0.9711 1)" x="90.68 94.33" y="667.8" font-size="6.555" fill="#000" >10</text>
<line x1="132.60" y1="655.7" x2="132.60" y2="658.7" stroke="#111" stroke-width="0.8"/>
<line x1="132.60" y1="463.8" x2="132.60" y2="466.8" stroke="#111" stroke-width="0.8"/>
<text transform="scale(0.9711 1)" x="132.91 136.55" y="667.8" font-size="6.555" fill="#000" >15</text>
<line x1="173.60" y1="655.7" x2="173.60" y2="658.7" stroke="#111" stroke-width="0.8"/>
<line x1="173.60" y1="463.8" x2="173.60" y2="466.8" stroke="#111" stroke-width="0.8"/>
<text transform="scale(0.9711 1)" x="175.13 178.77" y="667.8" font-size="6.555" fill="#000" >20</text>
<line x1="214.60" y1="655.7" x2="214.60" y2="658.7" stroke="#111" stroke-width="0.8"/>
<line x1="214.60" y1="463.8" x2="214.60" y2="466.8" stroke="#111" stroke-width="0.8"/>
<text transform="scale(0.9711 1)" x="217.35 221.00" y="667.8" font-size="6.555" fill="#000" >25</text>
<line x1="255.60" y1="655.7" x2="255.60" y2="658.7" stroke="#111" stroke-width="0.8"/>
<text transform="scale(0.9711 1)" x="259.57 263.22" y="667.8" font-size="6.555" fill="#000" >30</text>
<text x="102.41 105.29 107.51 112.49 117.32 121.93 126.29 128.31 130.66 135.75 138.64 142.75 147.30 149.53 154.26 158.67" y="680.45" font-size="7.875" fill="#000" >-log10 (P-value)</text>
<rect x="0" y="0" width="520" height="1.45" fill="#4a4a4a"/>
<rect x="0" y="0" width="1.4" height="690" fill="#4a4a4a"/>
<rect x="518.95" y="0" width="1.05" height="690" fill="#000"/>
<rect x="0" y="688.95" width="520" height="1.05" fill="#000"/>
</svg>
</body></html>
